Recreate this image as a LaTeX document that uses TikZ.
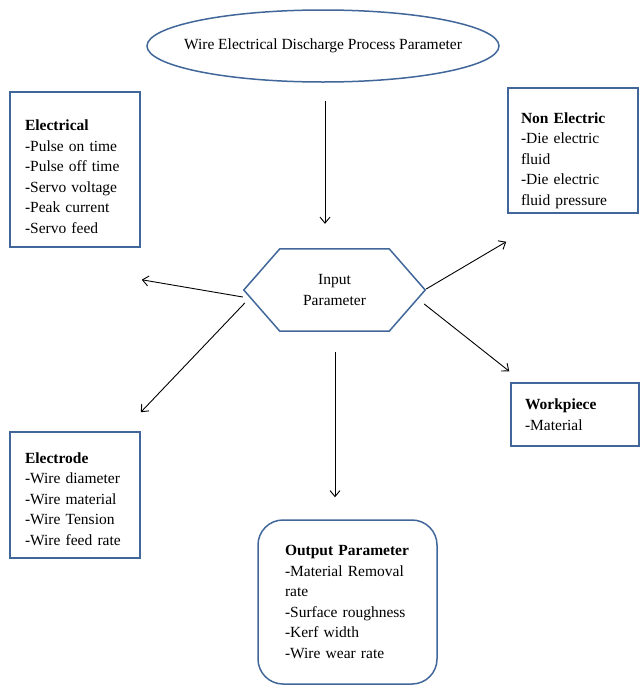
\documentclass[tikz,border=0pt]{standalone}
\usepackage{fontspec}
\setmainfont{Liberation Serif}
\usetikzlibrary{arrows.meta, calc, shapes.geometric}
\definecolor{boxblue}{RGB}{65,103,154}

\begin{document}
\begin{tikzpicture}[x=1pt, y=-1pt, >={Straight Barb[length=6pt, width=10pt]},
    every node/.style={font=\fontsize{15.5}{20.6}\selectfont},
    param/.style={draw=boxblue, line width=1.5pt, align=left, text width=#1},
    link/.style={->, line width=0.9pt}]
    \useasboundingbox (0,0) rectangle (640,686);
    \node[ellipse, draw=boxblue, line width=1.5pt, minimum width=352pt, minimum height=72pt, inner xsep=-20pt, inner ysep=0pt] (wedm) at (323,46) {Wire Electrical Discharge Process Parameter};
    \node[minimum width=181pt, minimum height=82pt, align=center] (inp) at (334.5,290) {Input\\Parameter};
    \draw[boxblue, line width=1.5pt] (inp.west) -- ($(inp.north west)+(36,0)$) -- ($(inp.north east)+(-36,0)$) -- (inp.east) -- ($(inp.south east)+(-36,0)$) -- ($(inp.south west)+(36,0)$) -- cycle;
    \node[param=100pt, inner xsep=15pt, minimum height=155pt] (elec) at (75,169.5) {\rule{0pt}{25pt}\textbf{Electrical}\\-Pulse on time\\-Pulse off time\\-Servo voltage\\-Peak current\\-Servo feed};
    \node[param=104pt, inner xsep=13pt, minimum height=125pt] (nonel) at (573,150.5) {\rule{0pt}{31pt}\textbf{Non Electric}\\-Die electric\\fluid\\-Die electric\\fluid pressure};
    \node[param=100pt, inner xsep=15pt, minimum height=126pt] (elde) at (75,495) {\rule{0pt}{19pt}\textbf{Electrode}\\-Wire diameter\\-Wire material\\-Wire Tension\\-Wire feed rate};
    \node[param=100pt, inner xsep=14pt, minimum height=63pt] (work) at (575,414.5) {\textbf{Workpiece}\\-Material};
    \node[param=125pt, inner xsep=27pt, minimum height=164pt, rounded corners=25pt] (outp) at (347.5,602) {\textbf{Output Parameter}\\-Material Removal\\rate\\-Surface roughness\\-Kerf width\\-Wire wear rate};
    \draw[link] ($(wedm.south)+(2,18)$) -- ($(inp.north)+(-9.5,-25)$);
    \draw[link] ($(inp.west)+(-1,7)$) -- ($(elec.south east)+(1,32)$);
    \draw[link] ($(inp.west)+(1,13)$) -- ($(elde.north east)+(0,-19)$);
    \draw[link] ($(inp.east)+(1,-1)$) -- ($(nonel.south west)+(-1,28)$);
    \draw[link] ($(inp.east)+(-1,14)$) -- ($(work.north west)+(-1,-11)$);
    \draw[link] ($(inp.south)+(0.5,21)$) -- ($(outp.north)+(-12.5,-22)$);
\end{tikzpicture}
\end{document}
